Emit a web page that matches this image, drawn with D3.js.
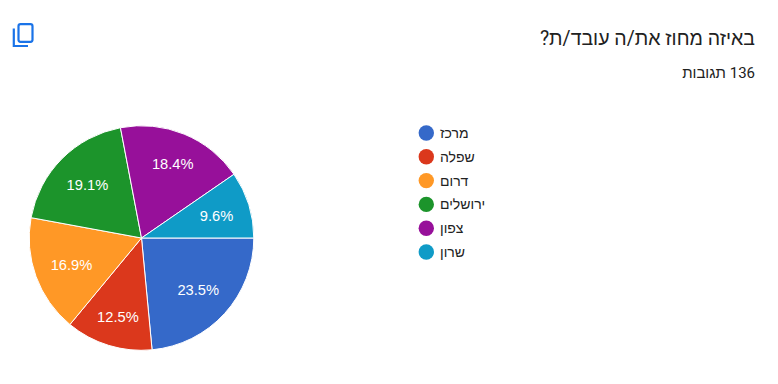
<!DOCTYPE html>
<html>
<head>
<meta charset="utf-8">
<script src="https://cdnjs.cloudflare.com/ajax/libs/d3/7.8.5/d3.min.js"></script>
<style>
  html, body { margin: 0; padding: 0; background: #fff; }
  svg { display: block; }
</style>
</head>
<body>
<svg id="chart" width="778" height="384"></svg>
<script>
const categories = ["מרכז", "שפלה", "דרום", "ירושלים", "צפון", "שרון"];
const percents = [23.5, 12.5, 16.9, 19.1, 18.4, 9.6];
const sliceColors = ["#3569c9", "#db381c", "#ff9826", "#1c942b", "#97109a", "#0f9bc7"];
const title = "באיזה מחוז את/ה עובד/ת?";
const subtitle = "136 תגובות";

const svg = d3.select("#chart");
const cx = 141.5, cy = 238, radius = 112.3;
// the chart pushes some labels further out than others
const labelRadii = [76, 82, 75, 77, 81, 78];

// header (rtl: "start" is the right edge)
svg.append("text")
  .attr("x", 755).attr("y", 44.5)
  .attr("text-anchor", "start")
  .attr("direction", "rtl")
  .attr("font-family", "Roboto, 'Liberation Sans', sans-serif")
  .attr("font-size", 19.5)
  .attr("fill", "#212121")
  .text(title);

svg.append("text")
  .attr("x", 755).attr("y", 78)
  .attr("text-anchor", "start")
  .attr("direction", "rtl")
  .attr("font-family", "Roboto, 'Liberation Sans', sans-serif")
  .attr("font-size", 15)
  .attr("fill", "#212121")
  .text(subtitle);

// copy icon
const icon = svg.append("g").attr("fill", "none").attr("stroke", "#1a73e8").attr("stroke-width", 2.2);
icon.append("rect").attr("x", 18.5).attr("y", 24.2).attr("width", 14).attr("height", 17.6).attr("rx", 2);
icon.append("path").attr("d", "M13.8 28.5V46H28");

// pie starts at 3 o'clock and goes clockwise
const pie = d3.pie().sort(null).value(d => d)
  .startAngle(Math.PI / 2).endAngle(Math.PI * 2.5);
const arc = d3.arc().innerRadius(0).outerRadius(radius);
const labelPos = (d, i) => d3.arc().innerRadius(labelRadii[i]).outerRadius(labelRadii[i]).centroid(d);

const slices = svg.append("g").attr("transform", `translate(${cx},${cy})`);

slices.selectAll("path")
  .data(pie(percents))
  .join("path")
  .attr("d", arc)
  .attr("fill", (d, i) => sliceColors[i])
  .attr("stroke", "#fff")
  .attr("stroke-width", 1);

slices.selectAll("text")
  .data(pie(percents))
  .join("text")
  .attr("x", (d, i) => labelPos(d, i)[0] + 0.5)
  .attr("y", (d, i) => labelPos(d, i)[1] + 0.8)
  .attr("dy", "0.36em")
  .attr("text-anchor", "middle")
  .attr("font-family", "'Liberation Sans', Arial, sans-serif")
  .attr("font-size", 14.7)
  .attr("fill", "#fff")
  .text(d => d.data.toFixed(1) + "%");

// legend
const legendY = d3.scalePoint().domain(categories).range([133, 252]);

const rows = svg.append("g").selectAll("g")
  .data(categories)
  .join("g")
  .attr("transform", d => `translate(0,${legendY(d)})`);

rows.append("circle")
  .attr("cx", 426.3)
  .attr("r", 7.7)
  .attr("fill", (d, i) => sliceColors[i]);

rows.append("text")
  .attr("x", 440)
  .attr("dy", "0.36em")
  .attr("font-family", "'Liberation Sans', Arial, sans-serif")
  .attr("font-size", 14)
  .attr("fill", "#222")
  .text(d => d);
</script>
</body>
</html>
